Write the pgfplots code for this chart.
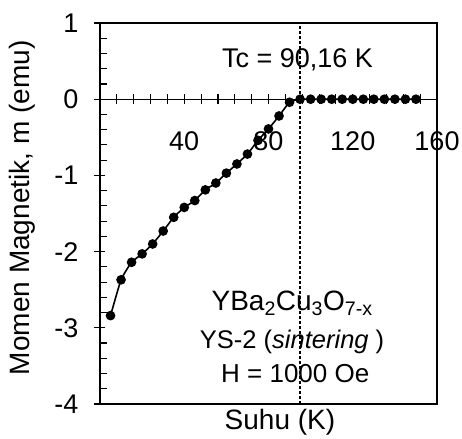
\documentclass[border=0pt]{standalone}
\usepackage{pgfplots}
\pgfplotsset{compat=1.18}
\usepackage{fontspec}
\setmainfont{Liberation Sans}
\begin{document}
\begin{tikzpicture}
\pgfplotsset{
  base/.style={
    width=337pt, height=381pt, scale only axis,
    xmin=0, xmax=160, ymin=-4, ymax=1,
    clip=false,
    /pgf/number format/assume math mode=true,
    tick label style={font=\fontsize{27}{30}\selectfont},
    label style={font=\fontsize{28}{30}\selectfont},
  }
}
\begin{axis}[base,
  axis line style={line width=1.1pt},
  xtick=\empty,
  ytick={-4,-3,-2,-1,0,1},
  yticklabels={-4,-3,-2,-1,0,1},
  ytick pos=left,
  ytick align=center,
  major tick length=11pt,
  yticklabel style={inner sep=0pt, anchor=east, xshift=-16pt},
  extra y ticks={-3.8,-3.6,-3.4,-3.2,-2.8,-2.6,-2.4,-2.2,-1.8,-1.6,-1.4,-1.2,-0.8,-0.6,-0.4,-0.2,0.2,0.4,0.6,0.8},
  extra y tick labels={},
  extra y tick style={ytick align=inside, major tick length=7pt},
  tick style={black, line width=1.1pt},
  ylabel={Momen Magnetik, m (emu)},
  ylabel style={at={(axis description cs:-0.232,0.515)}, anchor=center},
  xlabel={Suhu (K)},
  xlabel style={at={(axis description cs:0.534,0)}, anchor=center, yshift=-18pt},
]
\addplot[black, line width=1.2pt, densely dashed] coordinates {(95,-4) (95,1)};
\addplot[black, line width=1.6pt, smooth, tension=0.3, mark=*, mark size=4pt] coordinates {
(5,-2.84) (10,-2.37) (15,-2.14) (20,-2.03) (25,-1.90) (30,-1.73) (35,-1.55)
(40,-1.42) (45,-1.33) (50,-1.19) (55,-1.10) (60,-0.97) (65,-0.85) (70,-0.72)
(75,-0.54) (80,-0.39) (85,-0.22) (90,-0.04) (95,0) (100,0) (105,0) (110,0)
(115,0) (120,0) (125,0) (130,0) (135,0) (140,0) (145,0) (150,0)
};
\node[font=\fontsize{27}{30}\selectfont] at (axis cs:93.8,0.52) {Tc = 90,16 K};
\node[font=\fontsize{28}{30}\selectfont] at (axis cs:91.2,-2.68) {YBa\textsubscript{2}Cu\textsubscript{3}O\textsubscript{7-x}};
\node[font=\fontsize{25.5}{28}\selectfont] at (axis cs:91.2,-3.18) {YS-2 (\textit{sintering} )};
\node[font=\fontsize{26}{28}\selectfont] at (axis cs:92.7,-3.6) {H = 1000 Oe};
\end{axis}
\begin{axis}[base,
  axis x line=middle, axis y line=none,
  axis line style={line width=1.1pt, -},
  xtick={0,40,80,120,160},
  xticklabels={,40,80,120,160},
  minor x tick num=4,
  xtick align=center,
  major tick length=10pt, minor tick length=10pt,
  tick style={black, line width=1.1pt},
  xticklabel style={anchor=north, inner sep=0pt, yshift=-27pt},
  ytick=\empty,
]
\addplot[draw=none] coordinates {(0,0)};
\end{axis}
\path[use as bounding box] (-100pt,-32pt) rectangle (362pt,404pt);
\end{tikzpicture}
\end{document}
